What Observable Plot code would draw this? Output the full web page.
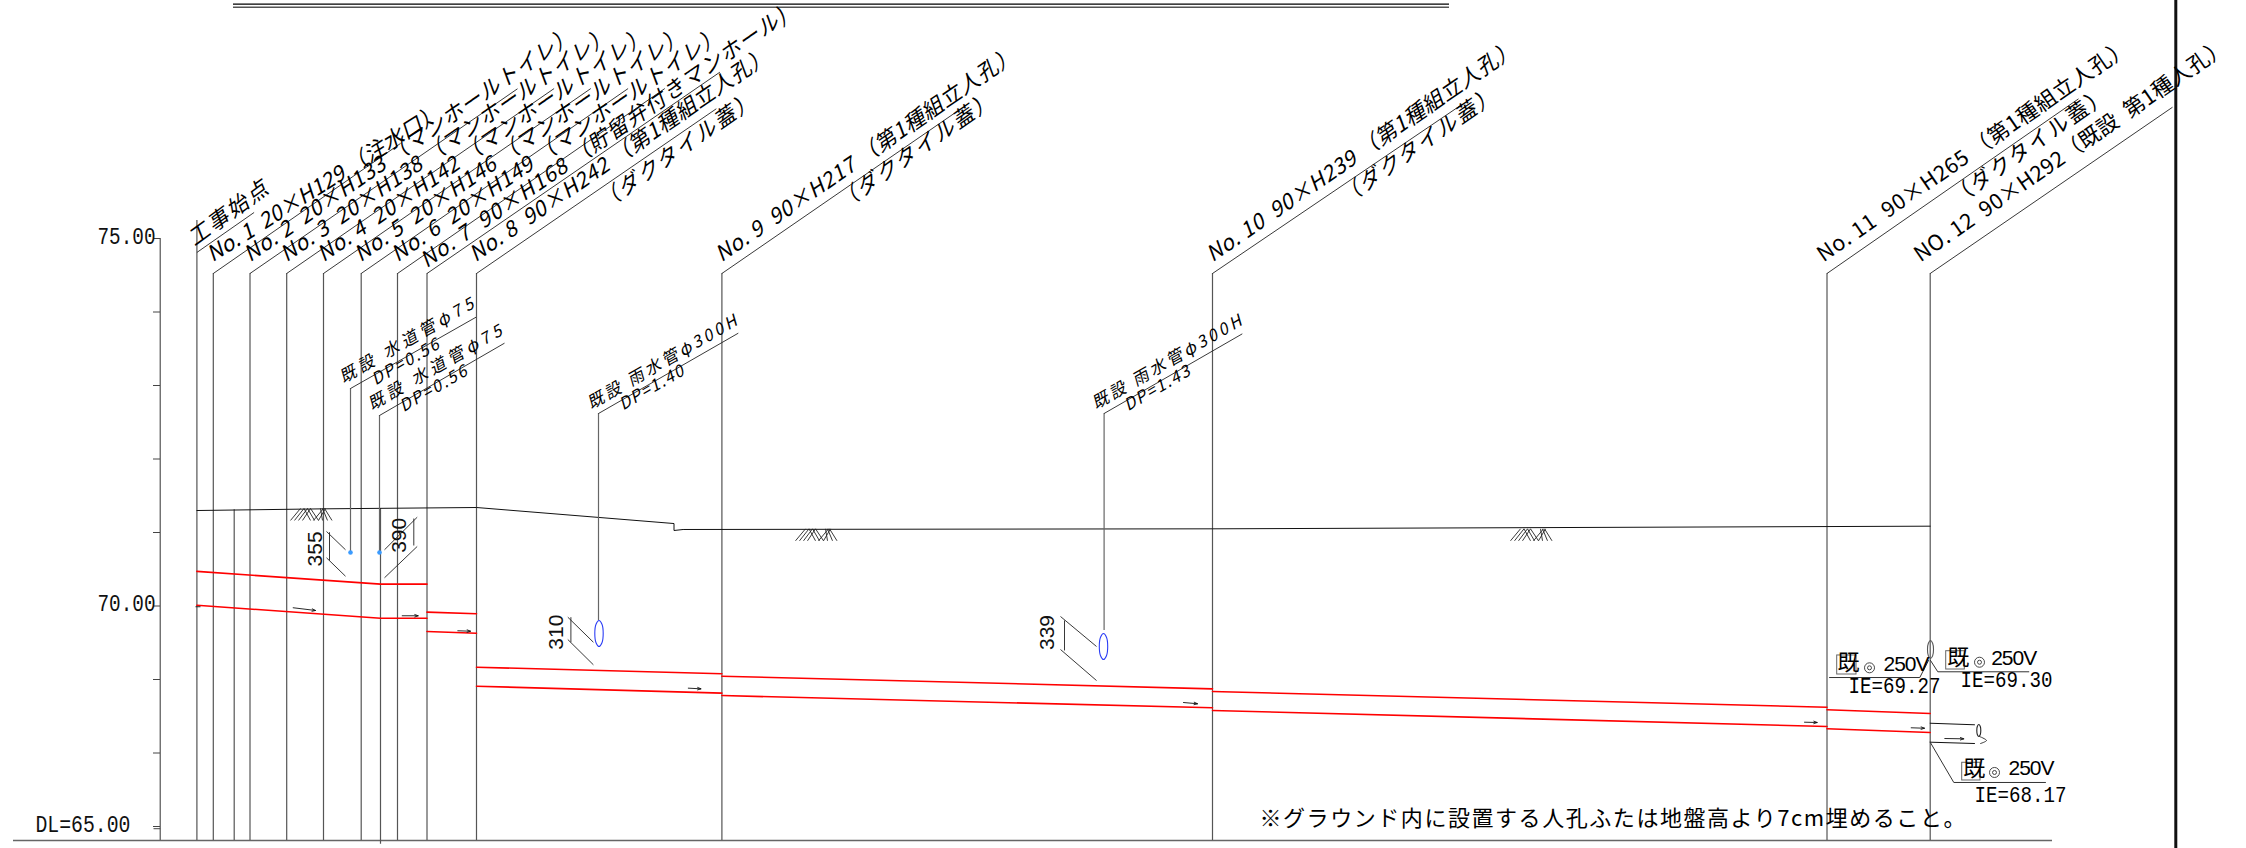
<!DOCTYPE html>
<html><head><meta charset="utf-8">
<style>html,body{margin:0;padding:0;background:#fff}svg{display:block}</style>
<script src="https://cdn.jsdelivr.net/npm/d3@7"></script>
<script src="https://cdn.jsdelivr.net/npm/@observablehq/plot@0.6"></script>
</head><body><div id="chart"></div>
<script>
// x: chainage, y: elevation
const stationX = [19.64,21.28,24.95,28.62,32.3,36.07,39.7,42.65,47.6,72.14,121.2,182.65,192.97];
const stationTop = [75.245,74.524,74.524,74.524,74.524,74.524,74.524,74.524,74.524,74.524,74.524,74.524,74.524];
const leaderEndX = [25.36,40.0,51.7,55.36,59.03,62.76,66.43,71.94,71.58,95.36,146.0,207.8,217.2];
const leaderEndY = [75.354,76.293,77.037,77.04,77.04,77.04,77.04,77.263,76.765,76.701,76.81,76.90,76.786];
const leaderStartY = [74.81,74.524,74.524,74.524,74.524,74.524,74.524,74.524,74.524,74.524,74.524,74.524,74.524];
const stationLabels = ["工事始点","No. 1  20×H129 （注水口）","No. 2  20×H133 （マンホールトイレ）","No. 3  20×H138 （マンホールトイレ）","No. 4  20×H142 （マンホールトイレ）","No. 5  20×H146 （マンホールトイレ）","No. 6  20×H149 （マンホールトイレ）","No. 7  90×H168 （貯留弁付きマンホール)","No. 8  90×H242 （第1種組立人孔）","No. 9  90×H217 （第1種組立人孔）","No. 10  90×H239 （第1種組立人孔）","No. 11  90×H265 （第1種組立人孔）","NO. 12  90×H292（既設  第1種人孔）"];
const stationLabelX = [19.4,21.2,24.95,28.6,32.3,36.0,39.7,42.6,47.5,72.1,121.2,182.3,192.0];
const stationLabelY = [74.891,74.673,74.673,74.673,74.673,74.673,74.673,74.592,74.673,74.673,74.673,74.673,74.673];
const stationLabelLen = [93,272,395,395,395,395,395,438,359,360,371,374,375];
const stationLabelAngle = [-36,-32.3,-34.5,-34.5,-34.5,-34.5,-34.5,-34.5,-34.5,-34.5,-34.5,-34.5,-34.5];
const lidLabel = "（ダクタイル蓋）";
const lidX = [60.4,84.25,134.5,195.7];
const lidY = [75.381,75.381,75.449,75.449];

const groundX = [19.64,32.3,47.6,67.35,67.35,68.26,121.2,192.97];
const groundY = [71.299,71.322,71.34,71.122,71.027,71.041,71.05,71.086];

const pipeId  = ["a","a","a","b","b","b","c","c","d","d","e","e","f","f","g","g","h","h","i","i","j","j","k","k","l","l"];
const pipeX   = [19.64,38.0,42.65,19.64,38.0,42.65,42.65,47.6,42.65,47.6,47.6,72.14,47.6,72.14,72.14,121.2,72.14,121.2,121.2,182.65,121.2,182.65,182.65,192.97,182.65,192.97];
const pipeY   = [70.471,70.297,70.297,70.01,69.834,69.834,69.916,69.894,69.653,69.63,69.167,69.078,68.909,68.814,69.045,68.873,68.782,68.615,68.837,68.623,68.578,68.361,68.588,68.537,68.329,68.279];

const axisTicks = [75,74,73,72,71,70,69,68,67];
const axisLabelled = [75,70];

// existing utilities crossing: callout lines
const utilityNames = ["既設 水道管φ75","既設 水道管φ75","既設 雨水管φ300H","既設 雨水管φ300H"];
const utilityNameX = [34.3,37.14,59.08,109.54];
const utilityNameY = [73.027,72.66,72.673,72.673];
const utilityNameLen = [151,152,170,170];
const utilityDP = ["DP=0.56","DP=0.56","DP=1.40","DP=1.43"];
const utilityDPX = [37.5,40.3,62.24,112.76];
const utilityDPY = [73.0,72.637,72.66,72.65];
const utilityDPLen = [75,75,72,73];
const utilityX = [35.0,37.9,59.8,110.36];
const utilityTop = [72.959,72.592,72.619,72.619];
const utilityBottom = [70.728,70.728,69.803,69.667];
const utilityEndX = [47.55,50.4,73.78,124.18];
const utilityEndY = [73.929,73.576,73.712,73.703];

// clearance dimensions
const clearLabels = ["355","390","310","339"];
const clearX = [31.5,39.83,55.6,104.7];
const clearY = [70.777,70.962,69.644,69.639];
const dimX1 = [32.9,32.6,32.6,41.33,41.67,41.67,57.04,56.73,56.73,106.4,106,106];
const dimY1 = [71.004,71.014,70.656,71.19,71.208,70.81,69.848,69.848,69.544,69.803,69.857,69.408];
const dimX2 = [32.9,34.5,34.5,41.33,38.4,38.4,57.04,59.29,59.29,106.4,109.6,109.6];
const dimY2 = [70.619,70.765,70.405,70.823,70.765,70.384,69.507,69.507,69.2,69.395,69.449,68.986];

const arrowX1 = [29.27,40.17,45.73,68.78,118.3,180.4,191.07,194.43];
const arrowY1 = [69.976,69.867,69.663,68.882,68.687,68.419,68.343,68.197];
const arrowX2 = [31.5,41.77,47.0,70.05,119.7,181.67,192.4,196.33];
const arrowY2 = [69.939,69.867,69.657,68.873,68.67,68.415,68.337,68.193];

const hatchLeft = [29.0,79.5,151.0];
const hatchTop = [71.327,71.05,71.05];
const hatchDepth = 0.163;
const hatchBottomOffset = [0,0.4,0.8,1.2,2.0,2.4,2.8,2.3,2.8,3.2,3.7,4.15];
const hatchTopOffset = [1.0,1.35,1.7,2.0,1.35,1.7,2.0,3.3,3.5,3.0,3.2,3.4];

// ellipses: crossing pipes
const ovalX = [59.85,110.3,193.0,197.83];
const ovalY = [69.626,69.449,69.408,68.306];
const ovalRx = [0.42,0.42,0.3,0.2];
const ovalRy = [0.177,0.177,0.122,0.082];
const ovalColor = ["#2a3cf5","#2a3cf5","#555555","#222222"];
const ovalDash = ["2.2,1","2.2,1","1.5,1","none"];
const waterX = [35.0,37.9];
const waterY = [70.728,70.728];

// existing sewer at the right
const outfallId = ["t","t","u","u"];
const outfallX = [192.97,197.4,192.97,197.4];
const outfallY = [68.405,68.384,68.147,68.129];
const breakX = [197.9,198.6,198.0];
const breakY = [68.225,68.17,68.129];

const calloutId = ["p","p","p","q","q","q","r","r","r"];
const calloutX = [182.9,191.93,192.8,193.0,193.73,202.83,192.97,195.33,204.5];
const calloutY = [69.027,69.027,69.259,69.259,69.105,69.105,68.147,67.599,67.599];
const boxX1 = [183.67,194.57,196.17];
const boxX2 = [185.6,196.43,198.0];
const boxY1 = [69.327,69.385,67.867];
const boxY2 = [69.068,69.136,67.626];
const kiX = [183.7,194.67,196.27];
const kiY = [69.231,69.299,67.789];
const ringX = [186.9,197.9,199.4];
const ringY = [69.159,69.235,67.735];
const voltX = [188.3,199.07,200.8];
const voltY = [69.204,69.286,67.789];
const ieLabels = ["IE=69.27","IE=69.30","IE=68.17"];
const ieX = [184.8,196.0,197.4];
const ieY = [68.918,69.0,67.435];

const note = "※グラウンド内に設置する人孔ふたは地盤高より7cm埋めること。";
const baseY = 66.81;

const gothic = "'Noto Sans CJK JP', sans-serif";
const mono = "'Liberation Mono', monospace";
const sans = "'Liberation Sans', Arial, sans-serif";
const idx = a => a.map((_, i) => i);

const verticals = idx(stationX);
const hatchLines = hatchLeft.flatMap((l, h) => hatchBottomOffset.map((b, i) => ({
  x1: l + b, y1: hatchTop[h] - hatchDepth, x2: l + hatchTopOffset[i], y2: hatchTop[h]})));
const ovalPts = ovalX.flatMap((cx, i) => [[0,1],[.707,.707],[1,0],[.707,-.707],[0,-1],[-.707,-.707],[-1,0],[-.707,.707]]
  .map(([a,b]) => ({id:i, x: cx + a*ovalRx[i], y: ovalY[i] + b*ovalRy[i], c: ovalColor[i], d: ovalDash[i]})));

const plot = Plot.plot({
  width: 2246, height: 848,
  marginLeft: 160, marginTop: 0, marginRight: 0, marginBottom: 0,
  style: {background: "#fff", overflow: "visible"},
  x: {domain: [0, 224.6], range: [0, 2246], axis: null},
  y: {domain: [75, 67], range: [238, 826]},
  marks: [
    // title double line
    Plot.ruleY([78.19], {x1: 23.3, x2: 144.9, stroke: "#000", strokeWidth: 1.2}),
    Plot.ruleY([78.147], {x1: 23.3, x2: 144.9, stroke: "#555", strokeWidth: 1.4}),
    // axis
    Plot.ruleX([15.97], {y1: 75, y2: baseY, stroke: "#444", strokeWidth: 1.1}),
    Plot.axisY({anchor: "left", ticks: axisTicks, tickSize: 7, tickFormat: () => "", stroke: "#444"}),
    Plot.axisY({anchor: "left", ticks: axisLabelled, tickSize: 0, tickPadding: 5, dy: -2, tickFormat: d => d.toFixed(2),
      fontFamily: mono, fontSize: 23, fill: "#111"}),
    Plot.link([66.97], {x1: 15.3, x2: 15.97, y1: d => d, y2: d => d, stroke: "#444"}),
    Plot.text(["DL=65.00"], {x: 3.5, y: 67.03, text: d => d, textAnchor: "start", fontFamily: mono, fontSize: 23, fill: "#111"}),
    // baseline + frame
    Plot.ruleY([baseY], {x1: 1.3, x2: 205.2, stroke: "#666", strokeWidth: 1.5}),
    Plot.ruleX([217.53], {stroke: "#111", strokeWidth: 3}),
    // stations
    Plot.ruleX(verticals, {x: i => stationX[i], y1: i => stationTop[i], y2: baseY, stroke: "#555", strokeWidth: 1.2}),
    Plot.ruleX([23.37], {y1: 71.31, y2: baseY, stroke: "#555", strokeWidth: 1.2}),
    Plot.ruleX([38.0], {y1: 71.327, y2: 66.76, stroke: "#555", strokeWidth: 1.2}),
    Plot.link(verticals, {x1: i => stationX[i], y1: i => leaderStartY[i], x2: i => leaderEndX[i], y2: i => leaderEndY[i], stroke: "#222", strokeWidth: 0.9}),
    Plot.text(idx(stationLabels).filter(i => i < 11), {x: i => stationLabelX[i], y: i => stationLabelY[i], text: i => stationLabels[i],
      rotate: i => stationLabelAngle[i], textAnchor: "start", lineAnchor: "bottom", fontFamily: gothic, fontSize: 21.5, fontStyle: "italic", fill: "#000"}),
    Plot.text(idx(stationLabels).filter(i => i >= 11), {x: i => stationLabelX[i], y: i => stationLabelY[i], text: i => stationLabels[i],
      rotate: i => stationLabelAngle[i], textAnchor: "start", lineAnchor: "bottom", fontFamily: gothic, fontSize: 21.5, fill: "#000"}),
    Plot.text(idx(lidX).slice(0,3), {x: i => lidX[i], y: i => lidY[i], text: () => lidLabel,
      rotate: -35, textAnchor: "start", lineAnchor: "bottom", fontFamily: gothic, fontSize: 21.5, fontStyle: "italic", fill: "#000"}),
    Plot.text([3], {x: i => lidX[i], y: i => lidY[i], text: () => lidLabel,
      rotate: -35, textAnchor: "start", lineAnchor: "bottom", fontFamily: gothic, fontSize: 21.5, fill: "#000"}),
    // ground
    Plot.line(idx(groundX), {x: i => groundX[i], y: i => groundY[i], stroke: "#111", strokeWidth: 1}),
    Plot.link(hatchLines, {x1: "x1", y1: "y1", x2: "x2", y2: "y2", stroke: "#222", strokeWidth: 0.9}),
    // pipes
    Plot.line(idx(pipeX), {x: i => pipeX[i], y: i => pipeY[i], z: i => pipeId[i], stroke: "#f00", strokeWidth: 1.6}),
    Plot.arrow(idx(arrowX1), {x1: i => arrowX1[i], y1: i => arrowY1[i], x2: i => arrowX2[i], y2: i => arrowY2[i], stroke: "#111", strokeWidth: 0.9, headLength: 6, headAngle: 40}),
    Plot.link([0], {x1: 19.5, x2: 20.0, y1: 69.99, y2: 69.99, stroke: "#222"}),
    // crossing utilities
    Plot.ruleX(idx(utilityX), {x: i => utilityX[i], y1: i => utilityTop[i], y2: i => utilityBottom[i], stroke: "#666", strokeWidth: 1.2}),
    Plot.link(idx(utilityX), {x1: i => utilityX[i], y1: i => utilityTop[i], x2: i => utilityEndX[i], y2: i => utilityEndY[i], stroke: "#222", strokeWidth: 0.9}),
    Plot.text(idx(utilityNames), {x: i => utilityNameX[i], y: i => utilityNameY[i], text: i => utilityNames[i],
      rotate: -30, textAnchor: "start", lineAnchor: "bottom", fontFamily: gothic, fontSize: 16.5, fontStyle: "italic", fill: "#000"}),
    Plot.text(idx(utilityDP), {x: i => utilityDPX[i], y: i => utilityDPY[i], text: i => utilityDP[i],
      rotate: -30, textAnchor: "start", lineAnchor: "bottom", fontFamily: gothic, fontSize: 16.5, fontStyle: "italic", fill: "#000"}),
    Plot.dot(idx(waterX), {x: i => waterX[i], y: i => waterY[i], r: 2.3, fill: "#3a9bff"}),
    Plot.line(ovalPts, {x: "x", y: "y", z: "id", stroke: "c", strokeDasharray: "d", strokeWidth: 1.1, curve: "catmull-rom-closed"}),
    // clearances
    Plot.link(idx(dimX1), {x1: i => dimX1[i], y1: i => dimY1[i], x2: i => dimX2[i], y2: i => dimY2[i], stroke: "#222", strokeWidth: 0.9}),
    Plot.text(idx(clearLabels), {x: i => clearX[i], y: i => clearY[i], text: i => clearLabels[i], rotate: -90, fontFamily: sans, fontSize: 21, fill: "#111"}),
    // existing sewer
    Plot.line(idx(outfallX), {x: i => outfallX[i], y: i => outfallY[i], z: i => outfallId[i], stroke: "#111", strokeWidth: 1}),
    Plot.line(idx(breakX), {x: i => breakX[i], y: i => breakY[i], stroke: "#222", strokeWidth: 0.9, curve: "catmull-rom"}),
    // callouts
    Plot.line(idx(calloutX), {x: i => calloutX[i], y: i => calloutY[i], z: i => calloutId[i], stroke: "#333", strokeWidth: 1}),
    Plot.rect(idx(boxX1), {x1: i => boxX1[i], x2: i => boxX2[i], y1: i => boxY1[i], y2: i => boxY2[i], fill: "none", stroke: "#666", strokeWidth: 1}),
    Plot.text(idx(kiX), {x: i => kiX[i], y: i => kiY[i], text: () => "既", textAnchor: "start", fontFamily: gothic, fontSize: 22, fill: "#000"}),
    Plot.dot(idx(ringX), {x: i => ringX[i], y: i => ringY[i], r: 5, stroke: "#333", strokeWidth: 0.9}),
    Plot.dot(idx(ringX), {x: i => ringX[i], y: i => ringY[i], r: 2, stroke: "#333", strokeWidth: 0.9}),
    Plot.text(idx(voltX), {x: i => voltX[i], y: i => voltY[i], text: () => "250V", textAnchor: "start", fontFamily: sans, fontSize: 21, fill: "#000"}),
    Plot.text(idx(ieX), {x: i => ieX[i], y: i => ieY[i], text: i => ieLabels[i], textAnchor: "start", fontFamily: mono, fontSize: 22, fill: "#000"}),
    Plot.text([note], {x: 125.9, y: 67.1, text: d => d, textAnchor: "start", fontFamily: gothic, fontSize: 22, fill: "#000"})
  ]
});
// stretch drawn text to the drawing's character pitch
const spaced = new Map([
  ...stationLabels.map((s, i) => [s, stationLabelLen[i]]),
  ...utilityNames.map((s, i) => [s, utilityNameLen[i]]),
  ...utilityDP.map((s, i) => [s, utilityDPLen[i]]),
  [lidLabel, 186], [note, 706], ["250V", 46]
]);
const squeezed = new Map([
  ...ieLabels.map(s => [s, 92]),
  ["DL=65.00", 95], ["75.00", 58], ["70.00", 58]
]);
plot.querySelectorAll("text").forEach(t => {
  const s = t.textContent;
  if (spaced.has(s)) { t.setAttribute("textLength", spaced.get(s)); t.setAttribute("lengthAdjust", "spacing"); }
  if (squeezed.has(s)) { t.setAttribute("textLength", squeezed.get(s)); t.setAttribute("lengthAdjust", "spacingAndGlyphs"); }
});
document.getElementById("chart").append(plot);
</script></body></html>
